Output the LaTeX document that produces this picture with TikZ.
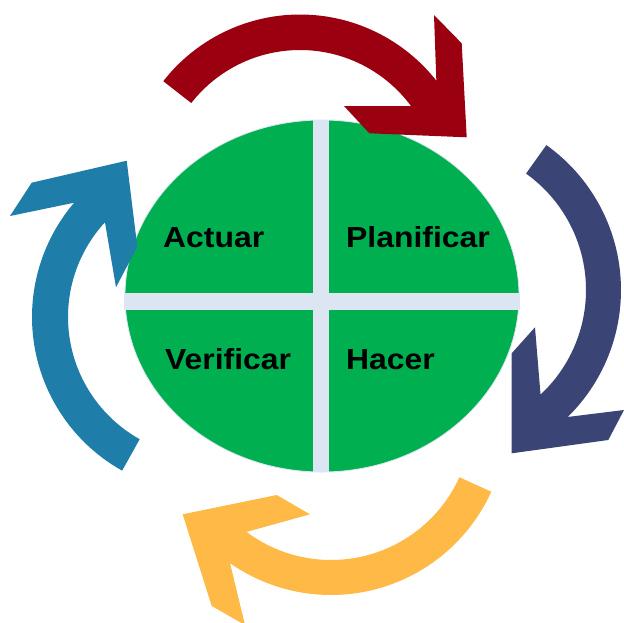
\documentclass[tikz,border=0pt]{standalone}
\usepackage{fontspec}
\setmainfont{Liberation Sans}
\usetikzlibrary{calc}

\definecolor{pdcaRed}{HTML}{9A0010}
\definecolor{pdcaNavy}{HTML}{3A4575}
\definecolor{pdcaGold}{HTML}{FFB946}
\definecolor{pdcaBlue}{HTML}{1E7DA9}
\definecolor{pdcaGreen}{HTML}{00B050}
\definecolor{pdcaCross}{HTML}{DCE6F2}

\begin{document}
\begin{tikzpicture}[yscale=-1, x=1pt, y=1pt,
  stage/.style={anchor=base west, inner sep=0pt, text=black,
    font=\bfseries\fontsize{29}{29}\selectfont}]
\useasboundingbox (0,0) rectangle (624,622);
\fill[white] (0,0) rectangle (624,622);
\clip (0,0) rectangle (624,622);

% green disc split into four quadrants by a light cross
\coordinate (disc) at (322,296);
\fill[pdcaGreen, draw=pdcaCross, line width=0.8pt] (disc) ellipse[x radius=197pt, y radius=176pt];
\fill[pdcaCross] (313,120) rectangle (329,472);
\fill[pdcaCross] (124,293) rectangle (520,310);

% quadrant labels
\node[stage] (actuar)     at (163,247.3) {\scalebox{1.1}[1]{Actuar}};
\node[stage] (planificar) at (346,247.3) {\scalebox{1.1}[1]{Planificar}};
\node[stage] (verificar)  at (165,369.3) {\scalebox{1.1}[1]{Verificar}};
\node[stage] (hacer)      at (346,369.3) {\scalebox{1.1}[1]{Hacer}};

% centres of the four curved arrows
\coordinate (cR) at (300,188);
\coordinate (cN) at (443,290);
\coordinate (cY) at (331,419);
\coordinate (cB) at (208,317);

% top arrow
\fill[pdcaRed] ($(cR)+(-142:173.5)$) arc[start angle=-142, end angle=-38.2, radius=173.5pt]
  -- (434,15) -- (461.7,43.3) -- (466.7,137.3) -- (369.3,133.3) -- (344,106)
  -- ($(cR)+(-36.4:138)$) arc[start angle=-36.4, end angle=-142, radius=138pt] -- cycle;

% right arrow
\fill[pdcaNavy] ($(cN)+(-54.5:178)$) arc[start angle=-54.5, end angle=45.5, radius=178pt]
  -- (624,410) -- (608.3,440) -- (511.7,453.3) -- (511.7,353.3) -- (535,327.3)
  -- ($(cN)+(47:143)$) arc[start angle=47, end angle=-54.5, radius=143pt] -- cycle;

% bottom arrow
\fill[pdcaGold] ($(cY)+(24.4:176)$) arc[start angle=24.4, end angle=125, radius=176pt]
  -- (245,625) -- (211.7,606) -- (182.7,514.3) -- (276.7,495) -- (310,514.3)
  -- ($(cY)+(126.8:141)$) arc[start angle=126.8, end angle=24.4, radius=141pt] -- cycle;

% left arrow
\fill[pdcaBlue] ($(cB)+(119.2:176)$) arc[start angle=119.2, end angle=220.5, radius=176pt]
  -- (10,216) -- (31.7,182.7) -- (126.7,160.7) -- (137.3,246.7) -- (116,287.3)
  -- ($(cB)+(222.6:140)$) arc[start angle=222.6, end angle=119.2, radius=140pt] -- cycle;
\end{tikzpicture}
\end{document}
